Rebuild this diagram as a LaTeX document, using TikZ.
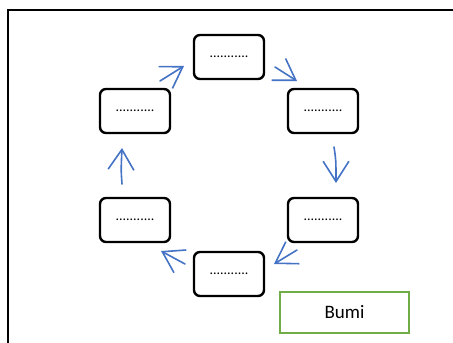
\documentclass[tikz,border=0pt]{standalone}
\usepackage{fontspec}
\setmainfont{Carlito}
\usetikzlibrary{arrows.meta}
\definecolor{arrowblue}{HTML}{4472C4}
\definecolor{boxgreen}{HTML}{70AD47}
\tikzset{
  cyclebox/.style={draw=black, line width=2.4pt, rounded corners=6pt, minimum width=70pt, minimum height=44pt, inner sep=0pt, font=\fontsize{14}{16}\selectfont},
  flow/.style={draw=arrowblue, line width=1.6pt, line cap=round, -{Straight Barb[angle=65:12pt, scale=2]}},
  earthbox/.style={draw=boxgreen, line width=2.2pt, minimum width=129pt, minimum height=41pt, inner sep=0pt, font=\fontsize{19}{22}\selectfont}
}
\begin{document}
\begin{tikzpicture}[x=1pt,y=-1pt]
\useasboundingbox (0,0) rectangle (453,343);
\draw[line width=2.8pt, line cap=rect] (8,345) -- (8,10) -- (455,10);
\node[cyclebox] (top) at (229,57) {...........};
\node[cyclebox] (ul) at (135,111) {...........};
\node[cyclebox] (ur) at (323,111) {...........};
\node[cyclebox] (ll) at (135,220) {...........};
\node[cyclebox] (lr) at (323,220) {...........};
\node[cyclebox] (bot) at (229,274) {...........};
\node[earthbox] (bumi) at (344.5,312.5) {Bumi};
\coordinate (a1s) at (160,81); \coordinate (a1e) at (184,66);
\coordinate (a2s) at (275,67); \coordinate (a2e) at (297,81);
\coordinate (a3s) at (334,147); \coordinate (a3e) at (336,183);
\coordinate (a4s) at (297,250); \coordinate (a4e) at (274,264);
\coordinate (a5s) at (185,264); \coordinate (a5e) at (161,251);
\coordinate (a6s) at (122,184); \coordinate (a6e) at (122,148);
\draw[flow] (a1s) -- (a1e);
\draw[flow] (a2s) -- (a2e);
\draw[flow] (a3s) .. controls (336,160) .. (a3e);
\draw[flow] (a4s) -- (a4e);
\draw[flow] (a5s) -- (a5e);
\draw[flow] (a6s) .. controls (121,170) .. (a6e);
\end{tikzpicture}
\end{document}
